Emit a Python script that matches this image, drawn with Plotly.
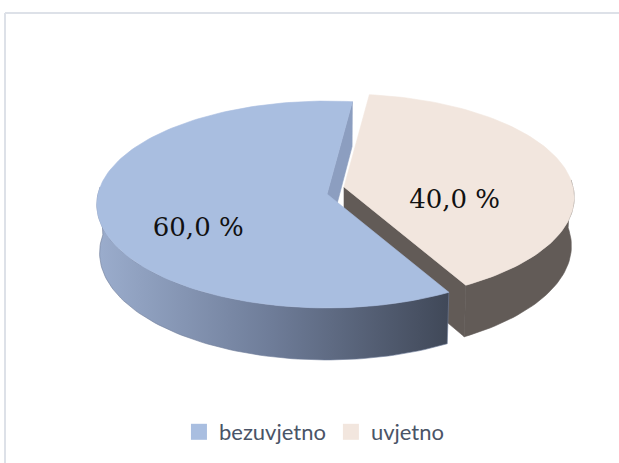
import numpy as np
import plotly.graph_objects as go

# ---- data -------------------------------------------------------------
categories = ["bezuvjetno", "uvjetno"]
shares = [60.0, 40.0]

# ---- styling ----------------------------------------------------------
top_colors = ["#a9bee0", "#f2e6de"]
cut_colors = ["#8c9ec0", "#625b57"]
side_fills = [
    dict(type="horizontal", colorscale=[[0, "#9badcd"], [0.5, "#6e7c98"], [1, "#404858"]]),
    None,
]
side_colors = ["#6e7c98", "#625b57"]
explode_px = [(0, 0), (17, -7)]       # screen shift of each slice
label_r = [0.57, 0.50]                 # label distance from centre (fraction of radius)

W, H = 619, 463

# ---- 3-D view of the pie slab -----------------------------------------
CX, CY = 327, 194          # projected centre of the top face
A = 229                    # projected radius (px)
SIN_PHI = 0.447            # camera elevation
COS_PHI = np.sqrt(1 - SIN_PHI ** 2)
Q = 0.1134                 # radius / camera distance (perspective)
THICK = 0.238              # slab thickness relative to radius
START = 83.0               # angle of the first slice edge (deg, CCW from +x)


def project(theta_deg, r, z, shift=(0, 0)):
    t = np.radians(theta_deg)
    x3 = r * np.cos(t)
    y3 = r * np.sin(t)
    depth = 1 + Q * (y3 * COS_PHI - z * SIN_PHI)
    sx = A * x3 / depth
    sy = A * (y3 * SIN_PHI + z * COS_PHI) / depth
    return CX + sx + shift[0], CY - sy + shift[1]


def arc(a0, a1, z, shift):
    th = np.linspace(a0, a1, max(2, int(abs(a1 - a0) / 1.5) + 2))
    return project(th, 1.0, z, shift)


def poly_trace(xs, ys, color, fillgradient=None):
    kw = dict(
        x=list(xs) + [xs[0]], y=list(ys) + [ys[0]],
        mode="lines", fill="toself", fillcolor=color,
        line=dict(width=0.6, color=color),
        hoverinfo="skip", showlegend=False,
    )
    if fillgradient is not None:
        kw["fillgradient"] = fillgradient
    return go.Scatter(**kw)


total = sum(shares)
spans = [360.0 * v / total for v in shares]
edges = [START]
for s in spans:
    edges.append(edges[-1] + s)

slices = []
for i, cat in enumerate(categories):
    a0, a1 = edges[i], edges[i + 1]
    mid = 0.5 * (a0 + a1)
    slices.append(dict(i=i, a0=a0, a1=a1, mid=mid))

# back slices first, front slices last
order = sorted(slices, key=lambda s: -np.sin(np.radians(s["mid"])))

fig = go.Figure()

for s in order:
    i, a0, a1 = s["i"], s["a0"], s["a1"]
    sh = explode_px[i]

    # flat cut faces along the slice edges that face the viewer
    for edge, normal in ((a0, a0 - 90), (a1, a1 + 90)):
        if np.sin(np.radians(normal)) < 0:
            ct = project(0, 0, 0, sh)
            cb = project(0, 0, -THICK, sh)
            rt = project(edge, 1, 0, sh)
            rb = project(edge, 1, -THICK, sh)
            fig.add_trace(poly_trace([ct[0], rt[0], rb[0], cb[0]],
                                     [ct[1], rt[1], rb[1], cb[1]], cut_colors[i]))

    # curved outer wall, front half only
    for lo, hi in ((176, 364), (536, 724)):
        b0, b1 = max(a0, lo), min(a1, hi)
        if b1 > b0:
            tx, ty = arc(b0, b1, 0, sh)
            bx, by = arc(b1, b0, -THICK, sh)
            fig.add_trace(poly_trace(np.concatenate([tx, bx]), np.concatenate([ty, by]),
                                     side_colors[i], side_fills[i]))

    # top face
    cx, cy = project(0, 0, 0, sh)
    tx, ty = arc(a0, a1, 0, sh)
    fig.add_trace(poly_trace(np.concatenate([[cx], tx]), np.concatenate([[cy], ty]),
                             top_colors[i]))

# percentage labels
for s in slices:
    i = s["i"]
    lx, ly = project(s["mid"], label_r[i], -THICK / 2, explode_px[i])
    txt = f"{shares[i] / total * 100:.1f}".replace(".", ",") + " %"
    fig.add_trace(go.Scatter(
        x=[lx], y=[ly], mode="text", text=[txt], textposition="middle center",
        textfont=dict(family="DejaVu Serif", size=26, color="#111111"),
        hoverinfo="skip", showlegend=False,
    ))

# legend entries
for cat, col in zip(categories, top_colors):
    fig.add_trace(go.Scatter(
        x=[None], y=[None], mode="markers", name=cat,
        marker=dict(symbol="square", size=16, color=col, line=dict(width=0)),
    ))

fig.update_layout(
    width=W, height=H, autosize=False,
    margin=dict(l=0, r=0, t=0, b=0, pad=0),
    paper_bgcolor="white", plot_bgcolor="white",
    xaxis=dict(range=[0, W], visible=False, fixedrange=True),
    yaxis=dict(range=[H, 0], visible=False, fixedrange=True),
    showlegend=True,
    legend=dict(
        orientation="h", x=0.508, xanchor="center", y=(H - 432) / H, yanchor="middle",
        font=dict(family="Lato", size=22, color="#4a5467"),
        bgcolor="rgba(0,0,0,0)", itemclick=False, itemdoubleclick=False,
    ),
    shapes=[
        dict(type="line", xref="x", yref="y", x0=5, y0=13, x1=W, y1=13,
             line=dict(color="#dde1e8", width=2)),
        dict(type="line", xref="x", yref="y", x0=5, y0=13, x1=5, y1=H,
             line=dict(color="#dde1e8", width=2)),
    ],
)

fig.write_html("out.html", include_plotlyjs=True, config={"displayModeBar": False})
